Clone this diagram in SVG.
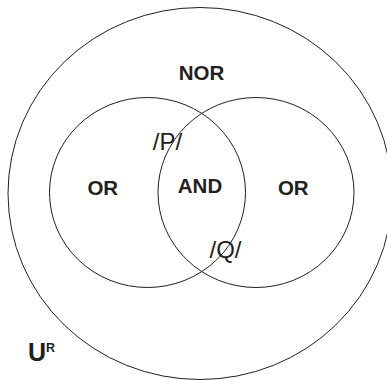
<svg xmlns="http://www.w3.org/2000/svg" width="387" height="380" viewBox="0 0 387 380">
<style>
.c{fill:none;stroke:#231f20;stroke-width:1}
.b{font-family:"Liberation Sans",Arial,sans-serif;font-weight:bold;fill:#231f20;text-anchor:middle}
.r{font-family:"Liberation Sans",Arial,sans-serif;fill:#231f20;text-anchor:middle}
</style>
<rect width="387" height="380" fill="#fff"/>
<g id="universe">
<ellipse class="c" cx="200" cy="193.5" rx="192" ry="186"/>
<text class="b" x="201.5" y="80" font-size="20.5">NOR</text>
<text class="b" x="28" y="360.5" font-size="25" text-anchor="start" style="text-anchor:start">U</text>
<text class="b" x="46" y="352.3" font-size="12.5" style="text-anchor:start">R</text>
</g>
<g id="P">
<ellipse class="c" cx="147.5" cy="192.5" rx="98" ry="95"/>
<text class="b" x="102.8" y="195" font-size="20.5">OR</text>
<text class="r" x="167.5" y="150" font-size="24">/P/</text>
</g>
<g id="Q">
<ellipse class="c" cx="256" cy="192.5" rx="98" ry="95"/>
<text class="b" x="293.3" y="195" font-size="20.5">OR</text>
<text class="r" x="225.5" y="258.3" font-size="24">/Q/</text>
</g>
<g id="intersection">
<text class="b" x="200" y="193.3" font-size="20.5">AND</text>
</g>
<g id="connectors"/>
</svg>
